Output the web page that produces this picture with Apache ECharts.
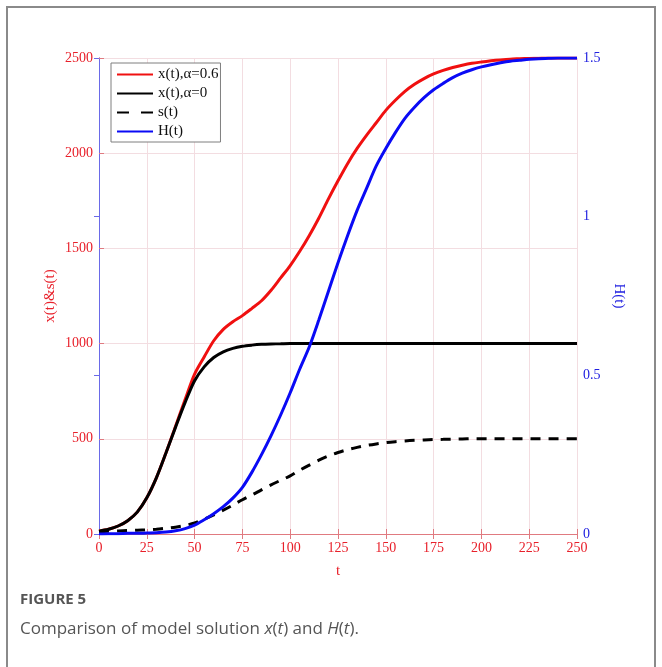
<!DOCTYPE html>
<html>
<head>
<meta charset="utf-8">
<script src="https://cdn.jsdelivr.net/npm/echarts@6/dist/echarts.min.js"></script>
<style>
html,body{margin:0;padding:0;background:#fff;}
#chart{width:662px;height:667px;}
</style>
</head>
<body>
<div id="chart"></div>
<script>
// ---- data ----
var tValues = [0,5,10,15,20,25,30,35,40,45,50,55,60,65,70,75,80,85,90,95,100,105,110,115,120,125,130,135,140,145,150,155,160,165,170,175,180,185,190,195,200,205,210,215,220,225,230,235,240,245,250];
var xAlpha06 = [15,25,42,70,115,190,295,425,565,705,840,930,1015,1075,1115,1147,1185,1225,1280,1345,1410,1485,1568,1660,1760,1855,1945,2025,2095,2160,2225,2278,2325,2362,2392,2416,2435,2450,2462,2472,2479,2485,2490,2494,2496,2498,2499,2500,2500,2500,2500];
var xAlpha0 = [15,25,42,70,115,190,295,425,560,690,805,878,927,957,975,986,992,996,998,999,1000,1000,1000,1000,1000,1000,1000,1000,1000,1000,1000,1000,1000,1000,1000,1000,1000,1000,1000,1000,1000,1000,1000,1000,1000,1000,1000,1000,1000,1000,1000];
var sValues = [12,14,16,18,20,22,25,30,36,45,58,78,100,125,152,180,205,232,258,282,305,335,362,388,410,428,443,455,465,473,480,485,489,492,494,496,497,498,499,500,500,500,500,500,500,500,500,500,500,500,500];
var hValues = [0,0.001,0.001,0.002,0.002,0.003,0.004,0.006,0.01,0.017,0.028,0.045,0.064,0.086,0.113,0.147,0.195,0.25,0.31,0.375,0.445,0.52,0.59,0.675,0.765,0.855,0.94,1.02,1.09,1.16,1.215,1.265,1.31,1.345,1.375,1.4,1.42,1.438,1.452,1.463,1.472,1.479,1.485,1.49,1.493,1.496,1.498,1.499,1.5,1.5,1.5];
var seriesNames = ['x(t),\u03b1=0.6','x(t),\u03b1=0','s(t)','H(t)'];
var xTicks = {min:0, max:250, interval:25};
var leftTicks = {min:0, max:2500, interval:500};
var rightTicks = {min:0, max:1.5, interval:0.5};

function pairs(arr){ return tValues.map(function(t,i){ return [t, arr[i]]; }); }
function plain(v){ return String(v); }

var RED = '#e8202a';
var AXRED = '#e07a80';
var BLUE = '#2020e0';
var SERIF = '"Liberation Serif", "Times New Roman", serif';

var chart = echarts.init(document.getElementById('chart'), null, {renderer:'canvas'});
var option = {
  backgroundColor:'#ffffff',
  animation:false,
  grid:{left:99, right:85, top:58, bottom:133},
  legend:{
    orient:'vertical', left:111, top:63,
    data:[
      {name:seriesNames[0]},
      {name:seriesNames[1]},
      {name:seriesNames[2], lineStyle:{type:[12,12]}},
      {name:seriesNames[3]}
    ],
    itemWidth:36, itemHeight:14, itemGap:2,
    padding:[3,2,2,5],
    backgroundColor:'#ffffff', borderColor:'#7f7f7f', borderWidth:1,
    itemStyle:{opacity:0},
    textStyle:{fontFamily:SERIF, fontSize:15, lineHeight:17, color:'#111'}
  },
  xAxis:[{
    type:'value', position:'bottom', min:xTicks.min, max:xTicks.max, interval:xTicks.interval,
    name:'t', nameLocation:'middle', nameGap:30,
    nameTextStyle:{fontFamily:SERIF, fontSize:15, color:RED},
    axisLine:{show:true, lineStyle:{color:AXRED, width:1}},
    axisTick:{show:true, inside:true, length:5, lineStyle:{color:AXRED}},
    axisLabel:{fontFamily:SERIF, fontSize:14, color:RED, margin:7, formatter:plain},
    splitLine:{show:true, lineStyle:{color:'#f3dde1', width:1}}
  },{
    type:'value', position:'top', min:xTicks.min, max:xTicks.max, interval:xTicks.interval,
    axisLine:{show:true, lineStyle:{color:AXRED, width:1}},
    axisTick:{show:true, inside:true, length:5, lineStyle:{color:AXRED}},
    axisLabel:{show:false}, splitLine:{show:false}
  }],
  yAxis:[{
    type:'value', position:'left', min:leftTicks.min, max:leftTicks.max, interval:leftTicks.interval,
    name:'x(t)&s(t)', nameLocation:'middle', nameGap:41, nameRotate:90, nameMoveOverlap:false,
    nameTextStyle:{fontFamily:SERIF, fontSize:15, color:RED},
    axisLine:{show:true, lineStyle:{color:AXRED, width:1}},
    axisTick:{show:true, inside:true, length:5, lineStyle:{color:AXRED}},
    axisLabel:{fontFamily:SERIF, fontSize:14, color:RED, margin:6, formatter:plain},
    splitLine:{show:true, lineStyle:{color:'#f3dde1', width:1}}
  },{
    type:'value', position:'right', min:rightTicks.min, max:rightTicks.max, interval:rightTicks.interval,
    name:'H(t)', nameLocation:'middle', nameGap:33, nameRotate:-90,
    nameTextStyle:{fontFamily:SERIF, fontSize:15, color:BLUE},
    axisLine:{show:true, lineStyle:{color:'#6a6ae8', width:1}},
    axisTick:{show:true, inside:true, length:5, lineStyle:{color:'#6a6ae8'}},
    axisLabel:{fontFamily:SERIF, fontSize:14, color:BLUE, margin:6, formatter:plain},
    splitLine:{show:false}
  }],
  series:[
    {name:seriesNames[0], type:'line', xAxisIndex:0, yAxisIndex:0, data:pairs(xAlpha06), showSymbol:false, symbol:'none', smooth:0.3,
     lineStyle:{color:'#f01010', width:3}, itemStyle:{color:'#f01010'}, z:3},
    {name:seriesNames[1], type:'line', xAxisIndex:0, yAxisIndex:0, data:pairs(xAlpha0), showSymbol:false, symbol:'none', smooth:0.3,
     lineStyle:{color:'#000000', width:3}, itemStyle:{color:'#000000'}, z:4},
    {name:seriesNames[2], type:'line', xAxisIndex:0, yAxisIndex:0, data:pairs(sValues), showSymbol:false, symbol:'none', smooth:0.3,
     lineStyle:{color:'#000000', width:3, type:[10,8]}, itemStyle:{color:'#000000'}, z:4},
    {name:seriesNames[3], type:'line', xAxisIndex:0, yAxisIndex:1, data:pairs(hValues), showSymbol:false, symbol:'none', smooth:0.3,
     lineStyle:{color:'#0a0af5', width:3}, itemStyle:{color:'#0a0af5'}, z:5}
  ],
  graphic:[
    {type:'polyline', shape:{points:[[7,667],[7,7],[655,7],[655,667]]}, style:{stroke:'#8a8a8a', lineWidth:2, fill:null}, silent:true},
    {type:'text', left:20, top:592, style:{text:'FIGURE 5', font:'bold 15px "Open Sans", "Noto Sans", sans-serif', fill:'#555555'}},
    {type:'text', left:20, top:621, style:{
      text:'Comparison of model solution {i|x}({i|t}) and {i|H}({i|t}).',
      font:'17px "Open Sans", "Noto Sans", sans-serif', fill:'#555555',
      rich:{i:{fontStyle:'italic', fontFamily:'"Open Sans", "Noto Sans", sans-serif', fontSize:17, fill:'#555555'}}
    }}
  ]
};
chart.setOption(option);
</script>
</body>
</html>
